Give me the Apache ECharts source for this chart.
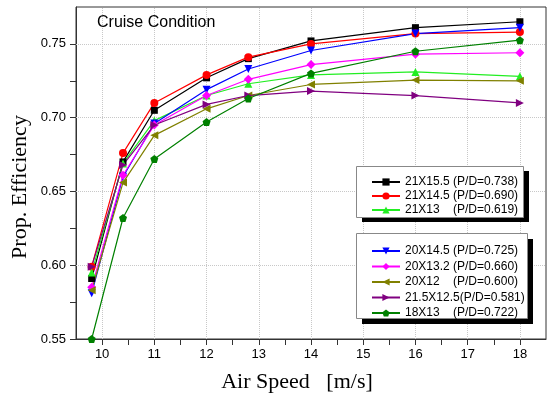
<!DOCTYPE html>
<html><head><meta charset="utf-8">
<script src="https://cdn.jsdelivr.net/npm/echarts@6/dist/echarts.min.js"></script>
<style>html,body{margin:0;padding:0;background:#fff}#c{width:549px;height:395px}</style>
</head><body><div id="c"></div>
<script>
// ---- data ----
const airSpeed = [9.8, 10.4, 11, 12, 12.8, 14, 16, 18];
const names = [
  '21X15.5 (P/D=0.738)', '21X14.5 (P/D=0.690)', '21X13    (P/D=0.619)',
  '20X14.5 (P/D=0.725)', '20X13.2 (P/D=0.660)', '20X12    (P/D=0.600)',
  '21.5X12.5(P/D=0.581)', '18X13    (P/D=0.722)'
];
const eff21x155 = [0.591, 0.670, 0.705, 0.727, 0.740, 0.752, 0.761, 0.765];
const eff21x145 = [0.599, 0.676, 0.710, 0.729, 0.741, 0.750, 0.757, 0.758];
const eff21x13  = [0.595, 0.669, 0.698, 0.715, 0.723, 0.729, 0.731, 0.728];
const eff20x145 = [0.581, 0.660, 0.696, 0.719, 0.733, 0.7455, 0.757, 0.761];
const eff20x132 = [0.585, 0.661, 0.695, 0.715, 0.726, 0.736, 0.743, 0.744];
const eff20x12  = [0.583, 0.656, 0.688, 0.706, 0.715, 0.7225, 0.7255, 0.725];
const eff215x125 = [0.599, 0.668, 0.695, 0.709, 0.715, 0.718, 0.715, 0.710];
const eff18x13  = [0.550, 0.632, 0.672, 0.697, 0.713, 0.730, 0.745, 0.7525];
const xGridTicks = [10, 11, 12, 13, 14, 15, 16, 17, 18];
const yGridTicks = [0.60, 0.65, 0.70, 0.75];

const allData = [eff21x155, eff21x145, eff21x13, eff20x145, eff20x132, eff20x12, eff215x125, eff18x13];
const colors = ['#000000', '#ff0000', '#22ee22', '#0000ff', '#ff00ff', '#808000', '#800080', '#008000'];
const symbols = [
  'rect', 'circle', 'triangle',
  'path://M0,0 L10,0 L5,9 Z',
  'diamond',
  'path://M0,5 L9,0 L9,10 Z',
  'path://M0,0 L9,5 L0,10 Z',
  'path://M5,0 L10,3.8 L8.1,10 L1.9,10 L0,3.8 Z'
];
const sizes = [7, 8, 8, 8, 9, 8, 8, 8];

const series = allData.map((d, i) => ({
  type: 'line',
  name: names[i],
  data: airSpeed.map((x, j) => [x, d[j]]),
  symbol: symbols[i],
  symbolSize: sizes[i],
  color: colors[i],
  lineStyle: { width: 1.2, color: colors[i] },
  itemStyle: { color: colors[i] },
  z: 3
}));
series[0].markLine = {
  silent: true, symbol: 'none', z: 1, animation: false,
  label: { show: false },
  lineStyle: { type: 'dotted', color: '#c8c8c8', width: 1 },
  data: xGridTicks.map(v => ({ xAxis: v })).concat(yGridTicks.map(v => ({ yAxis: v })))
};

const font = 'Liberation Sans, Arial, sans-serif';
const serif = 'Liberation Serif, Times New Roman, serif';
const legendText = { fontSize: 12, fontFamily: font, color: '#000' };

const chart = echarts.init(document.getElementById('c'), null, { renderer: 'canvas' });
chart.setOption({
  animation: false,
  backgroundColor: '#fff',
  title: {
    text: 'Cruise Condition', left: 97, top: 15, padding: 0,
    textStyle: { fontSize: 16, fontWeight: 'normal', fontFamily: font, color: '#000' }
  },
  grid: { left: 76, right: 3, top: 7, bottom: 56, show: true, borderColor: '#333', borderWidth: 1, backgroundColor: 'transparent' },
  xAxis: {
    type: 'value', min: 9.5, max: 18.5, interval: 0.5,
    axisLine: { show: true, lineStyle: { color: '#333' } },
    axisTick: { show: true, inside: false, length: 6, lineStyle: { color: '#333' } },
    axisLabel: {
      margin: 9, fontSize: 13, fontFamily: font, color: '#000',
      formatter: v => (Math.abs(v - Math.round(v)) < 1e-6 ? String(Math.round(v)) : ''),
      showMinLabel: false, showMaxLabel: false
    },
    splitLine: { show: false }
  },
  yAxis: {
    type: 'value', min: 0.55, max: 0.775, interval: 0.025,
    axisLine: { show: true, lineStyle: { color: '#333' } },
    axisTick: { show: true, inside: false, length: 6, lineStyle: { color: '#333' } },
    axisLabel: {
      margin: 10, fontSize: 13, fontFamily: font, color: '#000',
      formatter: v => (Math.round(v * 1000) % 50 === 0 ? v.toFixed(2) : ''),
      showMaxLabel: false
    },
    splitLine: { show: false }
  },
  legend: [
    {
      data: names.slice(0, 3), orient: 'vertical', left: 371, top: 176,
      itemWidth: 28, itemHeight: 9, itemGap: 2, padding: 0, z: 110,
      textStyle: legendText, selectedMode: false
    },
    {
      data: names.slice(3), orient: 'vertical', left: 371, top: 245,
      itemWidth: 28, itemHeight: 9, itemGap: 3.5, padding: 0, z: 110,
      textStyle: legendText, selectedMode: false
    }
  ],
  graphic: [
    { type: 'rect', z: 100, shape: { x: 362, y: 171, width: 167, height: 51 }, style: { fill: '#000' } },
    { type: 'rect', z: 101, shape: { x: 356.5, y: 166.5, width: 167, height: 51 }, style: { fill: '#fff', stroke: '#888', lineWidth: 1 } },
    { type: 'rect', z: 100, shape: { x: 362, y: 239, width: 171, height: 85 }, style: { fill: '#000' } },
    { type: 'rect', z: 101, shape: { x: 356.5, y: 233.5, width: 171, height: 85 }, style: { fill: '#fff', stroke: '#888', lineWidth: 1 } },
    { type: 'text', z: 120, x: 20, y: 187, rotation: Math.PI / 2,
      style: { text: 'Prop. Efficiency', font: '22px ' + serif, fill: '#000', textAlign: 'center', textVerticalAlign: 'middle' } },
    { type: 'text', z: 120, x: 297, y: 382,
      style: { text: 'Air Speed   [m/s]', font: '22px ' + serif, fill: '#000', textAlign: 'center', textVerticalAlign: 'middle' } }
  ],
  series: series
});
</script>
</body></html>
